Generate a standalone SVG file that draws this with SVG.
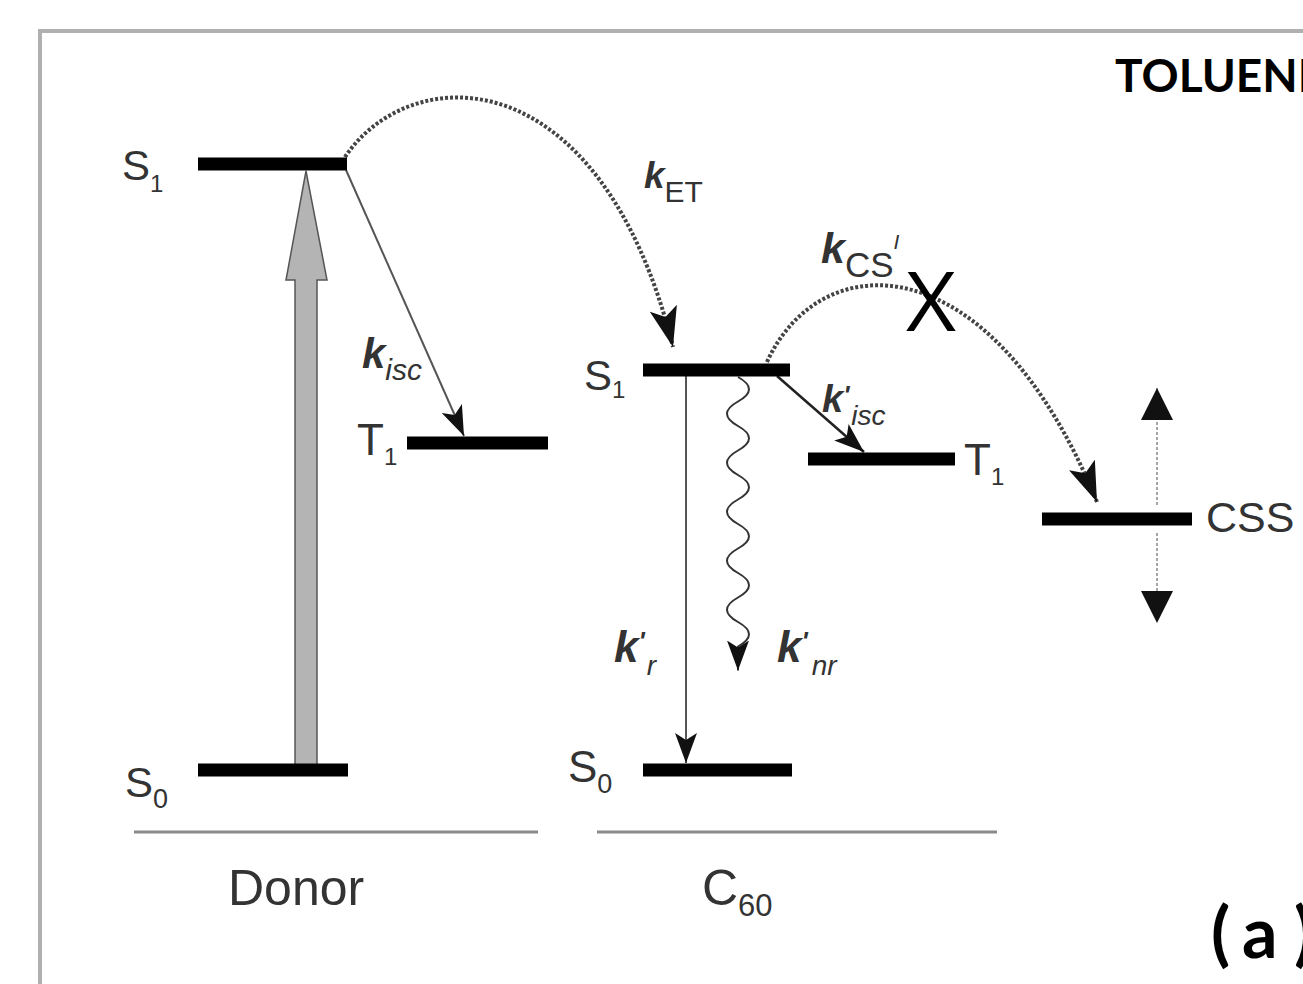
<svg xmlns="http://www.w3.org/2000/svg" width="1303" height="984" viewBox="0 0 1303 984">
<style>
.lvl{stroke:#000;stroke-width:13;stroke-linecap:butt}
.sep{stroke:#8a8a8a;stroke-width:3}
.lab{font-family:"Liberation Sans",Arial,sans-serif;fill:#333}
.k{font-family:"Liberation Sans",Arial,sans-serif;fill:#333;font-style:italic;font-weight:bold}
.dot{fill:none;stroke:#444;stroke-width:4;stroke-dasharray:3 2}
.thin{fill:none;stroke:#555;stroke-width:2}
</style>
<defs>
<marker id="ahL" markerUnits="userSpaceOnUse" viewBox="0 0 40 28" refX="40" refY="14" markerWidth="40" markerHeight="28" orient="auto"><path d="M0,0 L40,14 L0,28 L9,14 z" fill="#111"/></marker>
<marker id="ahM" markerUnits="userSpaceOnUse" viewBox="0 0 30 22" refX="30" refY="11" markerWidth="30" markerHeight="22" orient="auto"><path d="M0,0 L30,11 L0,22 L7,11 z" fill="#111"/></marker>
<marker id="tri" markerUnits="userSpaceOnUse" viewBox="0 0 32 32" refX="32" refY="16" markerWidth="32" markerHeight="32" orient="auto"><path d="M0,0 L32,16 L0,32 z" fill="#111"/></marker>
</defs>
<rect width="1303" height="984" fill="#fff"/>
<rect x="40" y="31" width="1300" height="1000" fill="none" stroke="#b0b0b0" stroke-width="4"/>

<g id="connectors">
<polygon points="295,770 295,280 286,280 306,171 327,280 317,280 317,770" fill="#b4b4b4" stroke="#555" stroke-width="1.5"/>
<line class="thin" x1="346" y1="170" x2="464" y2="436" marker-end="url(#ahM)"/>
<path class="dot" d="M345,157 C410,60 600,55 673,347" marker-end="url(#ahL)"/>
<path class="dot" d="M767,362 C820,245 990,240 1097,502" marker-end="url(#ahL)"/>
<line class="thin" x1="686" y1="376" x2="686" y2="763" marker-end="url(#ahM)"/>
<path fill="none" stroke="#333" stroke-width="2" d="M738,377 q22,12.25 0,24.5 t0,24.5 t0,24.5 t0,24.5 t0,24.5 t0,24.5 t0,24.5 t0,24.5 t0,24.5 t0,24.5 t0,24.5 l0,24" marker-end="url(#ahM)"/>
<line x1="777" y1="376" x2="864" y2="452" stroke="#222" stroke-width="2.5" marker-end="url(#ahM)"/>
<line x1="1157" y1="505" x2="1157" y2="388" stroke="#888" stroke-width="1.5" stroke-dasharray="3 2" marker-end="url(#tri)"/>
<line x1="1157" y1="533" x2="1157" y2="623" stroke="#888" stroke-width="1.5" stroke-dasharray="3 2" marker-end="url(#tri)"/>
</g>

<g id="donor-S1"><line class="lvl" x1="198" y1="164" x2="347" y2="164"/><text class="lab" x="122" y="180" font-size="42">S<tspan font-size="24" dy="12">1</tspan></text></g>
<g id="donor-S0"><line class="lvl" x1="198" y1="770" x2="348" y2="770"/><text class="lab" x="125" y="797" font-size="42">S<tspan font-size="27" dy="11">0</tspan></text></g>
<g id="donor-T1"><line class="lvl" x1="407" y1="443" x2="548" y2="443"/><text class="lab" x="357" y="455" font-size="44">T<tspan font-size="24" dy="10">1</tspan></text></g>
<g id="c60-S1"><line class="lvl" x1="643" y1="370" x2="790" y2="370"/><text class="lab" x="584" y="390" font-size="42">S<tspan font-size="24" dy="8">1</tspan></text></g>
<g id="c60-S0"><line class="lvl" x1="643" y1="770" x2="792" y2="770"/><text class="lab" x="568" y="782" font-size="44">S<tspan font-size="27" dy="11">0</tspan></text></g>
<g id="c60-T1"><line class="lvl" x1="808" y1="459" x2="955" y2="459"/><text class="lab" x="964" y="475" font-size="44">T<tspan font-size="24" dy="10">1</tspan></text></g>
<g id="css"><line class="lvl" x1="1042" y1="519" x2="1192" y2="519"/><text class="lab" x="1206" y="532" font-size="43">CSS</text></g>

<g id="rate-labels">
<text class="k" x="362" y="368" font-size="42">k<tspan font-size="30" dy="12" font-weight="normal">isc</tspan></text>
<text class="k" x="644" y="188" font-size="37">k<tspan font-size="30" dy="14" font-weight="normal" font-style="normal">ET</tspan></text>
<text class="k" x="821" y="263" font-size="43">k<tspan font-size="35" dy="14" font-weight="normal" font-style="normal">CS</tspan><tspan font-size="21" dy="-28" font-weight="normal">I</tspan></text>
<text class="k" x="822" y="412" font-size="38">k<tspan font-size="26" dy="-8">'</tspan><tspan font-size="28" dy="21" dx="2" font-weight="normal">isc</tspan></text>
<text class="k" x="614" y="662" font-size="44">k<tspan font-size="26" dy="-12">'</tspan><tspan font-size="28" dy="25" dx="2" font-weight="normal">r</tspan></text>
<text class="k" x="777" y="662" font-size="44">k<tspan font-size="26" dy="-12">'</tspan><tspan font-size="28" dy="25" dx="4" font-weight="normal">nr</tspan></text>
<text x="931" y="331" font-family="'Open Sans','Liberation Sans',sans-serif" font-size="82" text-anchor="middle" fill="#000" textLength="50" lengthAdjust="spacingAndGlyphs">X</text>
</g>

<g id="axes">
<line class="sep" x1="134" y1="832" x2="538" y2="832"/>
<line class="sep" x1="597" y1="832" x2="997" y2="832"/>
<text class="lab" x="228" y="905" font-size="50">Donor</text>
<text class="lab" x="702" y="905" font-size="50">C<tspan font-size="31" dy="11">60</tspan></text>
</g>

<text x="1115" y="92" font-family="Lato,'Open Sans',sans-serif" font-weight="bold" font-size="46" fill="#000">TOLUENE</text>
<text x="1211" y="958" font-family="Lato,'Open Sans',sans-serif" font-weight="bold" font-size="70" fill="#000"><tspan>(</tspan><tspan x="1242">a</tspan><tspan x="1294">)</tspan></text>
</svg>
